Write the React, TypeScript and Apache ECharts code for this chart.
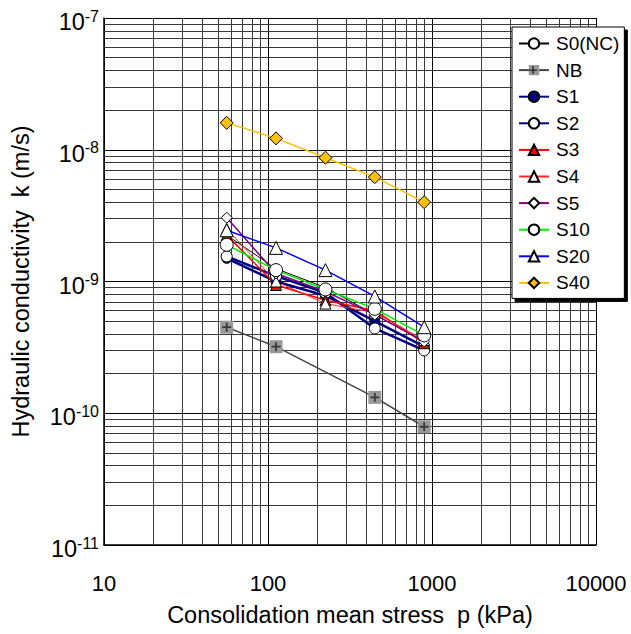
import React, { useEffect, useRef } from "react";
import * as echarts from "echarts";

const pressure = [56, 112, 224, 448, 896];
const pressureNB = [56, 112, 448, 896];

const kS0 = [2.25e-9, 1.25e-9, 9.0e-10, 5.6e-10, 3.5e-10];
const kNB = [4.5e-10, 3.2e-10, 1.32e-10, 7.9e-11];
const kS1 = [1.5e-9, 1.0e-9, 7.8e-10, 5.0e-10, 3.2e-10];
const kS2 = [1.55e-9, 1.1e-9, 8.2e-10, 4.4e-10, 3.0e-10];
const kS3 = [2.25e-9, 9.4e-10, 7.2e-10, 6.0e-10, 3.4e-10];
const kS4 = [2.5e-9, 1.0e-9, 6.8e-10, 5.8e-10, 3.6e-10];
const kS5 = [3.05e-9, 1.15e-9, 8.4e-10, 5.6e-10, 3.5e-10];
const kS10 = [1.9e-9, 1.22e-9, 8.7e-10, 6.2e-10, 3.9e-10];
const kS20 = [2.45e-9, 1.8e-9, 1.22e-9, 7.7e-10, 4.5e-10];
const kS40 = [1.6e-8, 1.22e-8, 8.7e-9, 6.2e-9, 4.0e-9];

const seriesNames = ["S0(NC)", "NB", "S1", "S2", "S3", "S4", "S5", "S10", "S20", "S40"];

const xDecades = [10, 100, 1000, 10000];
const yDecades = [1e-11, 1e-10, 1e-9, 1e-8, 1e-7];
const minorMultipliers = [2, 3, 4, 5, 6, 7, 8, 9];

const FONT = "'Liberation Sans', Arial, sans-serif";

function pairs(xs: number[], ys: number[]) {
  return xs.map((x, i) => [x, ys[i]]);
}

const PLUS = "path://M4,0 L6,0 L6,4 L10,4 L10,6 L6,6 L6,10 L4,10 L4,6 L0,6 L0,4 L4,4 Z";

// legend layout constants
const LEG_LEFT = 512;
const LEG_TOP = 27;
const LEG_PAD = [7, 5, 6, 6];
const LEG_ITEM_W = 30;
const LEG_FONT = 19;
const LEG_GAP = 7.6;

export default function App() {
  const ref = useRef<HTMLDivElement>(null);
  useEffect(() => {
    if (!ref.current) return;
    const chart = echarts.init(ref.current, undefined, { renderer: "svg" });

    const xMin = xDecades[0];
    const xMax = xDecades[xDecades.length - 1];
    const yMin = yDecades[0];
    const yMax = yDecades[yDecades.length - 1];

    const minorLines: any[] = [];
    xDecades.slice(0, -1).forEach((d) =>
      minorMultipliers.forEach((m) =>
        minorLines.push([{ coord: [d * m, yMin] }, { coord: [d * m, yMax] }])
      )
    );
    yDecades.slice(0, -1).forEach((d) =>
      minorMultipliers.forEach((m) =>
        minorLines.push([{ coord: [xMin, d * m] }, { coord: [xMax, d * m] }])
      )
    );

    const mk = (
      name: string,
      xs: number[],
      ys: number[],
      lineColor: string,
      lineWidth: number,
      symbol: string,
      symbolSize: number,
      fill: string,
      extra: any = {}
    ) => ({
      name,
      type: "line",
      data: pairs(xs, ys),
      symbol,
      symbolSize,
      showSymbol: true,
      lineStyle: { color: lineColor, width: lineWidth },
      itemStyle: { color: fill, borderColor: "#000", borderWidth: 1 },
      z: 3,
      ...extra,
    });

    // NB legend icon "+" overlay position
    const nbCx = LEG_LEFT + LEG_PAD[3] + LEG_ITEM_W / 2;
    const nbCy = LEG_TOP + LEG_PAD[0] + LEG_FONT + LEG_GAP + LEG_FONT / 2;

    chart.setOption({
      animation: false,
      textStyle: { fontFamily: FONT },
      grid: { left: 104, top: 18, width: 492, height: 527, containLabel: false },
      xAxis: {
        type: "log",
        logBase: 10,
        min: xMin,
        max: xMax,
        name: "Consolidation mean stress  p (kPa)",
        nameLocation: "middle",
        nameGap: 58,
        nameTextStyle: { fontSize: 23.5, color: "#000", fontFamily: FONT },
        axisLine: { show: true, onZero: false, lineStyle: { color: "#000", width: 1.5 } },
        axisTick: { show: false },
        axisLabel: {
          color: "#000",
          fontSize: 22,
          margin: 27,
          fontFamily: FONT,
          formatter: (v: number) => String(Math.round(v)),
        },
        splitLine: { show: true, lineStyle: { color: "#000", width: 1 } },
      },
      yAxis: {
        type: "log",
        logBase: 10,
        min: yMin,
        max: yMax,
        name: "Hydraulic conductivity  k (m/s)",
        nameLocation: "middle",
        nameGap: 71,
        nameTextStyle: { fontSize: 23.5, color: "#000", fontFamily: FONT },
        axisLine: { show: true, onZero: false, lineStyle: { color: "#000", width: 1.5 } },
        axisTick: { show: false },
        axisLabel: {
          margin: 5,
          formatter: (v: number) => {
            const e = Math.round(Math.log10(v));
            return `{a|10}{b|${e}}`;
          },
          rich: {
            a: { fontSize: 23.5, color: "#000", fontFamily: FONT, padding: [8, 0, 0, 0] },
            b: { fontSize: 16, color: "#000", fontFamily: FONT, padding: [0, 0, 4, 0] },
          },
        },
        splitLine: { show: true, lineStyle: { color: "#000", width: 1 } },
      },
      legend: {
        orient: "vertical",
        left: LEG_LEFT,
        top: LEG_TOP,
        z: 10,
        data: seriesNames,
        itemWidth: LEG_ITEM_W,
        itemHeight: 13,
        itemGap: LEG_GAP,
        padding: LEG_PAD,
        backgroundColor: "#fff",
        borderColor: "#000",
        borderWidth: 1,
        borderRadius: 0,
        shadowColor: "#000",
        shadowBlur: 0,
        shadowOffsetX: 3,
        shadowOffsetY: 3,
        textStyle: { fontSize: LEG_FONT, color: "#000", fontFamily: FONT, padding: [0, 0, 0, 2] },
      },
      graphic: {
        elements: [
          {
            type: "rect",
            z: 100,
            zlevel: 0,
            silent: true,
            shape: { x: nbCx - 4, y: nbCy - 0.6, width: 8, height: 1.3 },
            style: { fill: "#222" },
          },
          {
            type: "rect",
            z: 100,
            zlevel: 0,
            silent: true,
            shape: { x: nbCx - 0.6, y: nbCy - 4, width: 1.3, height: 8 },
            style: { fill: "#222" },
          },
        ],
      },
      series: [
        {
          name: "grid-minor",
          type: "line",
          data: [],
          silent: true,
          z: 1,
          markLine: {
            silent: true,
            z: 1,
            symbol: ["none", "none"],
            label: { show: false },
            animation: false,
            lineStyle: { color: "#3a3a3a", width: 1, type: "solid" },
            data: minorLines,
          },
        },
        mk("S0(NC)", pressure, kS0, "#000", 1, "circle", 6, "#fff"),
        mk("NB", pressureNB, kNB, "#444", 1.5, "rect", 13, "#999", {
          itemStyle: { color: "#999", borderWidth: 0 },
        }),
        {
          name: "NB-plus",
          type: "scatter",
          data: pairs(pressureNB, kNB),
          symbol: PLUS,
          symbolSize: 9,
          itemStyle: { color: "#222" },
          z: 4,
          silent: true,
        },
        mk("S1", pressure, kS1, "#000080", 2.5, "circle", 10, "#000080"),
        mk("S2", pressure, kS2, "#000080", 2.5, "circle", 11, "#fff"),
        mk("S3", pressure, kS3, "#ff0000", 1.5, "triangle", 11, "#ff0000"),
        mk("S4", pressure, kS4, "#ff2a2a", 1, "triangle", 11, "#fff"),
        mk("S5", pressure, kS5, "#800080", 1.5, "diamond", 11, "#fff"),
        mk("S10", pressure, kS10, "#00ee00", 1.5, "circle", 13, "#fff"),
        mk("S20", pressure, kS20, "#0000ff", 1.5, "triangle", 13, "#fff"),
        mk("S40", pressure, kS40, "#ffc000", 1.5, "diamond", 13, "#ffc000"),
      ],
    });

    return () => chart.dispose();
  }, []);

  return (
    <div
      ref={ref}
      style={{ position: "fixed", left: 0, top: 0, width: 631, height: 634, background: "#fff" }}
    />
  );
}
